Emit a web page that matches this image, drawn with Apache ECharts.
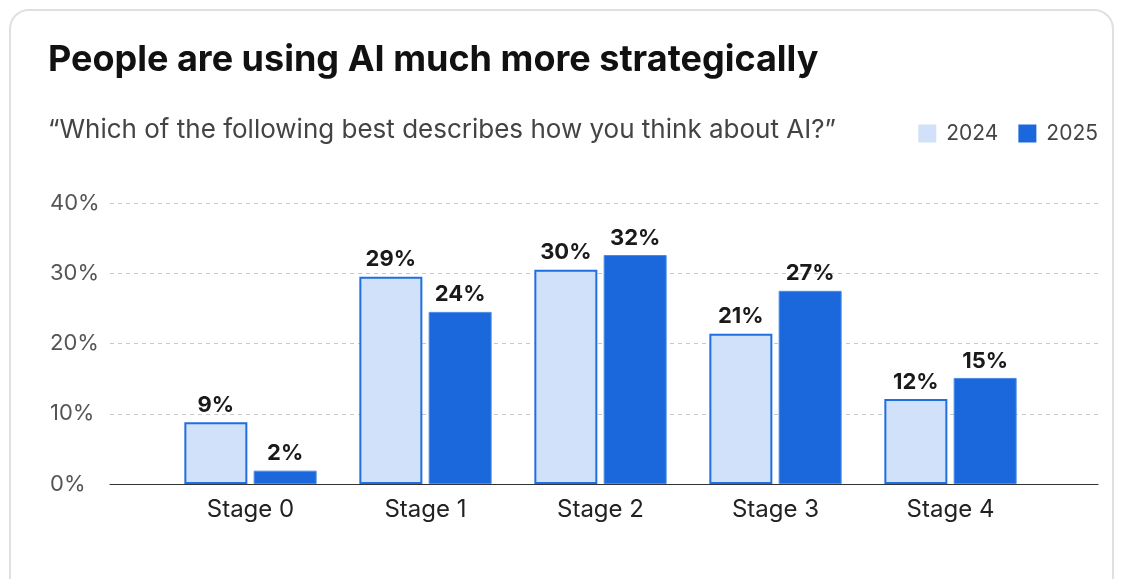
<!DOCTYPE html>
<html>
<head>
<meta charset="utf-8">
<script src="https://cdn.jsdelivr.net/npm/echarts@6/dist/echarts.min.js"></script>
<style>
    html, body { margin: 0; padding: 0; background: #fff; }
    .card {
        position: absolute; left: 9px; top: 9px; width: 1105px; height: 620px;
        border: 2px solid #e0e0e0; border-radius: 20px; box-sizing: border-box;
    }
    #chart { position: absolute; left: 0; top: 0; width: 1123px; height: 579px; }
</style>
</head>
<body>
<div class="card"></div>
<div id="chart"></div>
<script>
var categories = ['Stage 0', 'Stage 1', 'Stage 2', 'Stage 3', 'Stage 4'];
// bar heights as drawn (percent)
var values2024 = [8.8, 29.5, 30.5, 21.4, 12.1];
var values2025 = [1.9, 24.5, 32.6, 27.5, 15.1];
// numbers printed above the bars
var labels2024 = [9, 29, 30, 21, 12];
var labels2025 = [2, 24, 32, 27, 15];
var yTicks = {min: 0, max: 40, interval: 10};

var fontFamily = 'Inter, "Open Sans", sans-serif';
var lightBlue = '#d0e1f9';
var darkBlue = '#1a68db';

function barLabel(labels) {
    return {
        show: true,
        position: 'top',
        distance: 6,
        fontFamily: fontFamily,
        fontSize: 22,
        fontWeight: 'bold',
        color: '#1a1a1a',
        formatter: function (p) {
            return labels[p.dataIndex] + '%';
        }
    };
}

var chart = echarts.init(document.getElementById('chart'));
chart.setOption({
    animation: false,
    textStyle: {fontFamily: fontFamily},
    title: [{
        text: 'People are using AI much more strategically',
        left: 43, top: 37,
        textStyle: {fontSize: 36, fontWeight: 'bold', color: '#111', fontFamily: fontFamily}
    }, {
        text: '\u201cWhich of the following best describes how you think about AI?\u201d',
        left: 43, top: 112,
        textStyle: {fontSize: 26, fontWeight: 'normal', color: '#444', fontFamily: fontFamily}
    }],
    legend: {
        right: 20, top: 118,
        icon: 'rect',
        itemWidth: 18, itemHeight: 18, itemGap: 20,
        textStyle: {fontSize: 21, color: '#444', fontFamily: fontFamily, padding: [0, 0, 0, 5]},
        data: [
            {name: '2024', itemStyle: {color: lightBlue, borderWidth: 0}},
            {name: '2025', itemStyle: {color: darkBlue, borderWidth: 0}}
        ]
    },
    grid: [
        {left: 163, right: 85, top: 203, bottom: 95},
        {left: 110, right: 25, top: 203, bottom: 95}
    ],
    xAxis: [{
        type: 'category', gridIndex: 0, data: categories,
        axisLine: {show: false}, axisTick: {show: false},
        axisLabel: {fontSize: 24, color: '#222', margin: 14, fontFamily: fontFamily}
    }, {
        type: 'value', gridIndex: 1, min: 0, max: 1,
        axisLine: {show: true, lineStyle: {color: '#333', width: 1}},
        axisTick: {show: false}, axisLabel: {show: false}, splitLine: {show: false}
    }],
    yAxis: [{
        type: 'value', gridIndex: 0, min: yTicks.min, max: yTicks.max, interval: yTicks.interval,
        show: false
    }, {
        type: 'value', gridIndex: 1, min: yTicks.min, max: yTicks.max, interval: yTicks.interval,
        axisLine: {show: false}, axisTick: {show: false},
        axisLabel: {formatter: '{value}%', fontSize: 22, color: '#555', margin: 60, align: 'left', fontFamily: fontFamily},
        splitLine: {show: true, lineStyle: {color: '#c8c8c8', type: [4, 4], width: 1}}
    }],
    series: [{
        name: '2024', type: 'bar', xAxisIndex: 0, yAxisIndex: 0,
        data: values2024, barWidth: 63, barGap: '10%',
        itemStyle: {color: lightBlue, borderColor: '#1f6fe0', borderWidth: 2},
        label: barLabel(labels2024)
    }, {
        name: '2025', type: 'bar', xAxisIndex: 0, yAxisIndex: 0,
        data: values2025, barWidth: 63, barGap: '10%',
        itemStyle: {color: darkBlue, borderColor: '#4c8ce6', borderWidth: 1},
        label: barLabel(labels2025)
    }]
});
</script>
</body>
</html>
